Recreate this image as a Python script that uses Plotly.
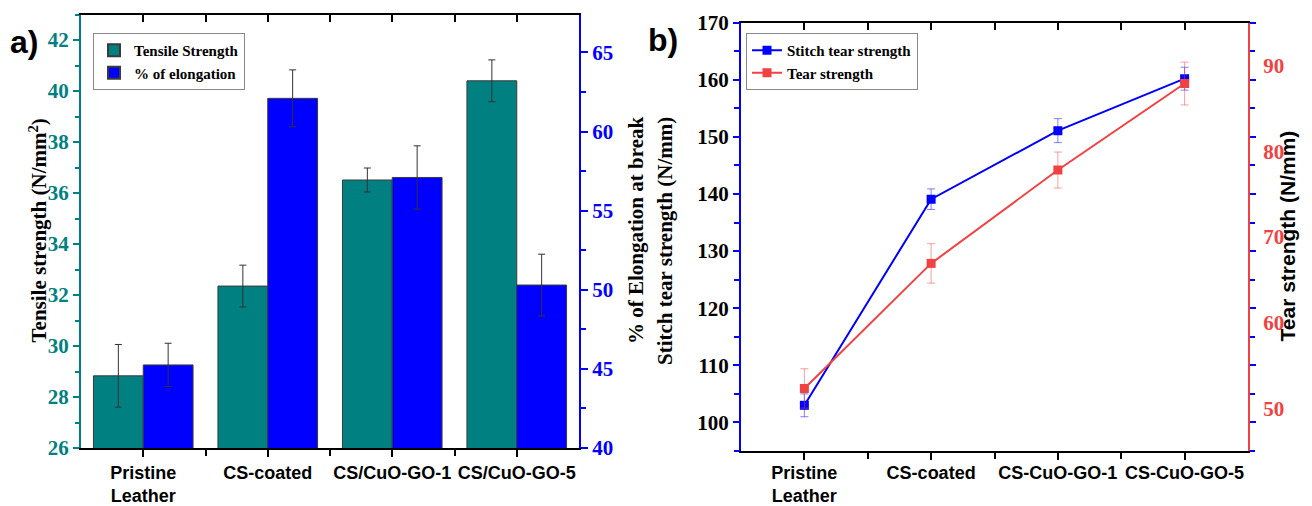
import plotly.graph_objects as go

# ---------------- data ----------------
cats_a = ["Pristine<br>Leather", "CS-coated", "CS/CuO-GO-1", "CS/CuO-GO-5"]
cats_b = ["Pristine<br>Leather", "CS-coated", "CS-CuO-GO-1", "CS-CuO-GO-5"]
pos = [0, 1, 2, 3]

tensile = [28.83, 32.35, 36.51, 40.40]
tensile_err = [1.23, 0.82, 0.47, 0.82]
elong = [45.25, 62.1, 57.1, 50.3]
elong_err = [1.37, 1.8, 2.0, 1.95]

stitch = [103.0, 139.1, 151.1, 160.2]
stitch_err = [2.0, 1.8, 2.1, 2.0]
tear = [52.3, 66.9, 77.8, 87.9]
tear_err = [2.3, 2.3, 2.1, 2.5]

ticks_tensile = [26, 28, 30, 32, 34, 36, 38, 40, 42]
ticks_elong = [40, 45, 50, 55, 60, 65]
ticks_stitch = [100, 110, 120, 130, 140, 150, 160, 170]
ticks_tear = [50, 60, 70, 80, 90]

TEAL = "#008080"
BLUE = "#0000FF"
RED = "#F24141"
SERIF = "Liberation Serif"
SANS = "Liberation Sans"

W, H = 1312, 506
def px(x):
    return x / W
def py(y):
    return 1 - y / H
def bold(v):
    return [f"<b>{t}</b>" for t in v]

fig = go.Figure()

# ---------------- panel a ----------------
fig.add_trace(go.Bar(
    x=pos, y=tensile, name="Tensile Strength", xaxis="x", yaxis="y",
    offset=-0.4, width=0.4, marker=dict(color=TEAL, line=dict(color="#3a3a3a", width=1)),
    error_y=dict(type="data", array=tensile_err, color="#333333", thickness=1, width=3.5),
    legend="legend",
))
fig.add_trace(go.Bar(
    x=pos, y=elong, name="% of elongation", xaxis="x", yaxis="y2",
    offset=0, width=0.4, marker=dict(color=BLUE, line=dict(color="#3a3a3a", width=1)),
    error_y=dict(type="data", array=elong_err, color="#333333", thickness=1, width=3.5),
    legend="legend",
))
fig.add_trace(go.Scatter(x=[None], y=[None], xaxis="x2", yaxis="y", showlegend=False, hoverinfo="skip"))

# ---------------- panel b ----------------
fig.add_trace(go.Scatter(
    x=pos, y=stitch, name="Stitch tear strength", xaxis="x3", yaxis="y3",
    mode="lines+markers", line=dict(color=BLUE, width=2),
    marker=dict(symbol="square", size=9, color=BLUE),
    error_y=dict(type="data", array=stitch_err, color="rgba(0,0,255,0.5)", thickness=1, width=4),
    legend="legend2",
))
fig.add_trace(go.Scatter(
    x=pos, y=tear, name="Tear strength", xaxis="x3", yaxis="y4",
    mode="lines+markers", line=dict(color=RED, width=2),
    marker=dict(symbol="square", size=9, color=RED),
    error_y=dict(type="data", array=tear_err, color="rgba(242,65,65,0.5)", thickness=1, width=4),
    legend="legend2",
))
fig.add_trace(go.Scatter(x=[None], y=[None], xaxis="x4", yaxis="y3", showlegend=False, hoverinfo="skip"))

dom_ax = [px(81), px(579)]
dom_ay = [py(448), py(14.5)]
dom_bx = [px(741), px(1248)]
dom_by = [py(451), py(22.7)]

xtickfont = dict(family=SANS, size=18, color="black", weight=700)
common = dict(showgrid=False, zeroline=False, automargin=False)

fig.update_layout(
    template="none",
    width=W, height=H,
    margin=dict(l=0, r=0, t=0, b=0, pad=0),
    paper_bgcolor="white", plot_bgcolor="white",
    barmode="overlay",
    showlegend=True,
    xaxis=dict(
        domain=dom_ax, anchor="y", range=[-0.5, 3.5],
        tickmode="array", tickvals=pos, ticktext=bold(cats_a), tickfont=xtickfont,
        ticks="outside", ticklen=7, tickwidth=2, tickcolor="black", ticklabelstandoff=0,
        minor=dict(tickmode="array", tickvals=[0.5, 1.5, 2.5], ticks="outside", ticklen=6, tickwidth=2, tickcolor="black"),
        showline=True, linecolor="black", linewidth=2, **common,
    ),
    xaxis2=dict(
        overlaying="x", side="top", anchor="y", range=[-0.5, 3.5],
        tickmode="array", tickvals=[0, 0.5, 1, 1.5, 2, 2.5, 3], showticklabels=False,
        ticks="inside", ticklen=7, tickwidth=2, tickcolor="black",
        showline=True, linecolor="black", linewidth=2, **common,
    ),
    yaxis=dict(
        domain=dom_ay, anchor="x", range=[26, 43],
        tickmode="array", tickvals=ticks_tensile, ticktext=bold(ticks_tensile),
        tickfont=dict(family=SERIF, size=21, color=TEAL, weight=700),
        ticks="outside", ticklen=6, tickwidth=2, tickcolor=TEAL,
        minor=dict(dtick=1, tick0=26, ticks="outside", ticklen=4, tickwidth=2, tickcolor=TEAL),
        showline=True, linecolor=TEAL, linewidth=2, **common,
    ),
    yaxis2=dict(
        overlaying="y", side="right", anchor="x", range=[40, 67.4],
        tickmode="array", tickvals=ticks_elong, ticktext=bold(ticks_elong),
        tickfont=dict(family=SERIF, size=21, color=BLUE, weight=700),
        ticks="outside", ticklen=7, tickwidth=2, tickcolor=BLUE,
        minor=dict(dtick=2.5, tick0=40, ticks="outside", ticklen=5, tickwidth=2, tickcolor=BLUE),
        showline=True, linecolor=BLUE, linewidth=2, **common,
    ),
    xaxis3=dict(
        domain=dom_bx, anchor="y3", range=[-0.5, 3.5],
        tickmode="array", tickvals=pos, ticktext=bold(cats_b), tickfont=xtickfont,
        ticks="outside", ticklen=7, tickwidth=2, tickcolor="black", ticklabelstandoff=-3,
        minor=dict(tickmode="array", tickvals=[0.5, 1.5, 2.5], ticks="outside", ticklen=6, tickwidth=2, tickcolor="black"),
        showline=True, linecolor="black", linewidth=2, **common,
    ),
    xaxis4=dict(
        overlaying="x3", side="top", anchor="y3", range=[-0.5, 3.5],
        tickmode="array", tickvals=[0, 0.5, 1, 1.5, 2, 2.5, 3], showticklabels=False,
        ticks="inside", ticklen=7, tickwidth=2, tickcolor="black",
        showline=True, linecolor="black", linewidth=2, **common,
    ),
    yaxis3=dict(
        domain=dom_by, anchor="x3", range=[95, 170],
        tickmode="array", tickvals=ticks_stitch, ticktext=bold(ticks_stitch),
        tickfont=dict(family=SERIF, size=21, color="black", weight=700),
        ticks="outside", ticklen=6, tickwidth=2, tickcolor=BLUE,
        minor=dict(dtick=5, tick0=95, ticks="outside", ticklen=5, tickwidth=2, tickcolor=BLUE),
        showline=True, linecolor=BLUE, linewidth=2, mirror="ticks", **common,
    ),
    yaxis4=dict(
        overlaying="y3", side="right", anchor="x3", range=[45, 95],
        tickmode="array", tickvals=ticks_tear, ticktext=bold(ticks_tear), ticks="", ticklabelstandoff=9,
        tickfont=dict(family=SERIF, size=21, color=RED, weight=700),
        showline=True, linecolor=RED, linewidth=2, **common,
    ),
    legend=dict(
        x=px(93), y=py(33), xanchor="left", yanchor="top",
        bgcolor="white", bordercolor="#888888", borderwidth=1,
        font=dict(family=SERIF, size=15, color="black", weight=700),
        tracegroupgap=0, itemsizing="constant",
    ),
    legend2=dict(
        x=px(746), y=py(33), xanchor="left", yanchor="top",
        bgcolor="white", bordercolor="#888888", borderwidth=1,
        font=dict(family=SERIF, size=15, color="black", weight=700),
        tracegroupgap=0, itemwidth=30,
    ),
    annotations=[
        dict(text="<b>a)</b>", x=px(8), y=py(22), xref="paper", yref="paper", showarrow=False,
             xanchor="left", yanchor="top",
             font=dict(family=SANS, size=32, color="black", weight=700)),
        dict(text="<b>b)</b>", x=px(646), y=py(20), xref="paper", yref="paper", showarrow=False,
             xanchor="left", yanchor="top",
             font=dict(family=SANS, size=32, color="black", weight=700)),
        dict(text="<b>Tensile strength (N/mm<sup>2</sup>)</b>", x=px(22), y=py(231), xref="paper", yref="paper",
             showarrow=False, textangle=-90, font=dict(family=SERIF, size=21, color="black", weight=700)),
        dict(text="<b>% of Elongation at break</b>", x=px(636), y=py(231), xref="paper", yref="paper",
             showarrow=False, textangle=-90, font=dict(family=SERIF, size=21, color="black", weight=700)),
        dict(text="<b>Stitch tear strength (N/mm)</b>", x=px(665), y=py(241), xref="paper", yref="paper",
             showarrow=False, textangle=-90, font=dict(family=SERIF, size=21, color="black", weight=700)),
        dict(text="<b>Tear strength (N/mm)</b>", x=px(1300), y=py(236), xref="paper", yref="paper",
             showarrow=False, textangle=-90, font=dict(family=SANS, size=21, color="black", weight=700)),
    ],
)

fig.write_html("out.html")
